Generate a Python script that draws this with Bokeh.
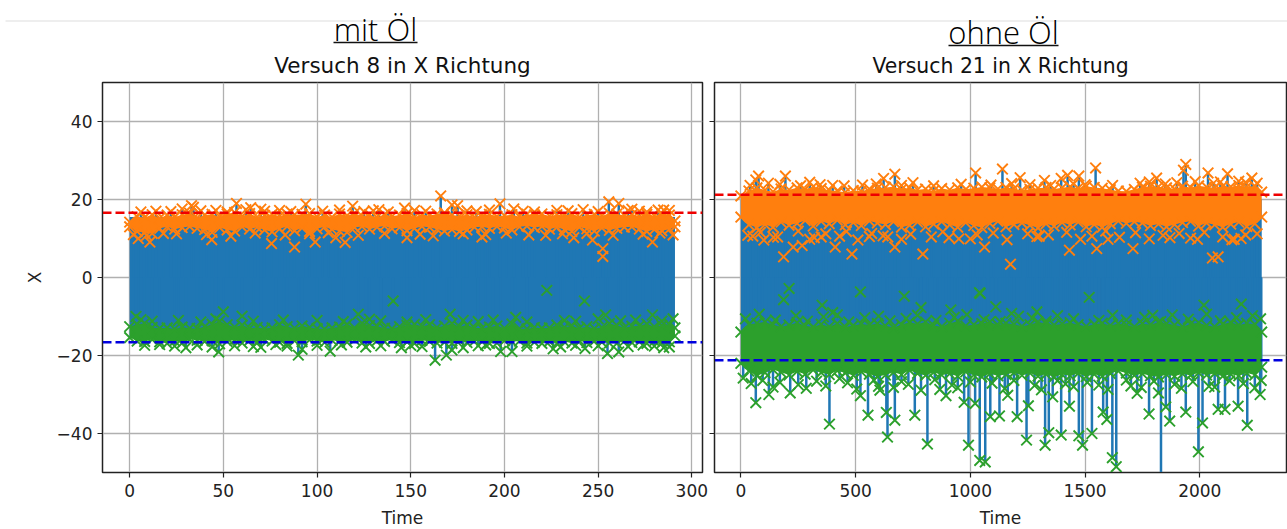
from bokeh.plotting import figure
from bokeh.layouts import column, row
from bokeh.models import Range1d, FixedTicker, Label
from bokeh.embed import file_html
from bokeh.resources import INLINE

BLUE, ORANGE, GREEN = "#1f77b4", "#ff7f0e", "#2ca02c"

# ---------- mit Öl (Versuch 8) ----------
a_title = "Versuch 8 in X Richtung"
a_head = "mit Öl"
a_span = [0, 291]
a_core_hi = [15.5, 15.5]
a_core_lo = [-15.5, -15.5]
a_limit = 16.6
a_t = [0,4,8,12,16,20,24,28,32,36,40,44,48,52,56,60,64,68,72,76,80,84,88,92,96,100,104,108,112,116,120,124,128,132,136,140,144,148,152,156,160,164,168,172,176,180,184,188,192,196,200,204,208,212,216,220,224,228,232,236,240,244,248,252,256,260,264,268,272,276,280,284,288,291]
a_top = [14.2,15.6,15.4,16.1,15.2,16.0,15.5,16.1,16.5,15.3,16.0,16.2,15.6,16.3,16.7,15.7,16.4,15.5,15.9,16.2,15.8,16.3,16.1,16.2,16.4,15.6,16.0,15.5,16.3,15.9,16.5,15.8,16.1,15.4,16.2,15.7,16.0,16.4,15.5,16.1,15.9,16.3,16.6,16.0,15.8,16.1,15.5,16.0,16.2,15.7,15.9,16.1,15.6,16.2,16.0,16.3,15.8,16.1,15.9,16.4,15.5,16.0,16.2,15.8,16.5,16.3,15.9,16.1,15.7,16.2,15.8,16.4,16.0,14.5]
a_low = [13.0,11.8,11.5,11.3,12.6,13.0,12.4,12.8,13.1,12.6,12.3,11.6,12.8,12.2,11.9,13.0,12.4,12.9,12.2,11.7,12.5,13.1,12.0,12.7,11.8,12.5,13.0,12.3,11.9,11.6,12.8,13.1,12.4,12.9,13.2,12.5,12.8,12.0,12.6,13.1,12.9,12.4,11.9,12.3,11.8,12.2,12.9,13.0,12.6,13.1,12.7,12.2,13.0,13.2,12.8,13.1,12.4,12.9,12.3,11.8,12.9,12.5,11.9,12.7,12.1,12.6,12.9,13.0,12.4,11.8,12.3,12.0,12.4,13.0]
a_gtop = [-12.6,-12.0,-11.7,-12.8,-13.0,-12.9,-13.2,-12.7,-13.0,-13.1,-12.6,-12.0,-11.2,-12.1,-12.7,-12.2,-13.0,-12.8,-13.1,-12.9,-12.1,-12.6,-13.0,-12.4,-12.8,-13.1,-13.2,-12.9,-12.7,-12.0,-12.9,-11.7,-12.3,-12.5,-13.0,-13.1,-12.6,-12.3,-12.0,-12.5,-12.1,-12.8,-12.4,-11.8,-12.6,-12.2,-12.9,-13.0,-12.7,-12.4,-13.0,-11.9,-13.1,-13.2,-12.8,-13.0,-12.9,-12.2,-12.8,-12.4,-13.0,-12.6,-13.1,-12.8,-11.8,-12.3,-12.9,-12.5,-12.4,-11.9,-12.6,-12.3,-12.0,-12.9]
a_gbot = [-15.4,-16.3,-16.4,-15.9,-16.5,-16.9,-16.3,-16.8,-15.9,-16.1,-16.4,-16.2,-17.0,-16.4,-16.0,-16.8,-16.1,-16.7,-15.9,-16.3,-16.6,-16.9,-16.2,-16.5,-16.0,-16.3,-16.7,-16.1,-16.4,-16.6,-16.0,-16.8,-16.9,-16.2,-16.4,-16.0,-16.7,-16.5,-16.9,-16.1,-16.4,-16.8,-16.6,-16.9,-16.2,-16.7,-16.3,-16.4,-16.9,-16.8,-16.2,-16.5,-16.3,-16.8,-16.6,-16.9,-16.4,-16.9,-16.5,-16.8,-16.2,-16.7,-16.3,-16.6,-16.8,-16.9,-16.3,-16.7,-16.5,-16.9,-16.3,-16.8,-16.5,-15.0]
a_hi_t = [166,57,33,34,94,197.6,255.7,261,172,175,119,64.6,146.7,88,252.5,252.5,75.7,10.8,43.8,99,279,115,148,237,247,4.6,70,133,205,268,285,110,188,222,28,
          6,14,22,38,46,52,62,72,80,86,103,112,125,130,138,152,158,180,185,192,210,216,228,234,242,250,266,272,276,282,288,
          2,9,18,25,41,54,67,83,96,106,122,136,155,162,178,190,201,213,231,244,258,274,283,290]
a_hi_v = [20.9,19.0,18.4,18.0,18.8,18.9,19.4,19.0,18.6,18.4,18.3,17.9,17.8,7.8,7.4,5.4,8.7,9.1,9.7,9.1,9.1,9.0,10.2,10.2,9.6,10.0,17.5,17.4,17.6,17.5,17.3,10.2,10.4,10.8,17.6,
          16.8,17.0,16.9,17.1,17.2,16.8,17.4,17.0,17.2,16.9,17.0,17.3,16.9,17.1,16.8,17.2,17.0,17.1,16.9,17.3,17.0,16.8,17.2,17.1,17.4,16.9,17.2,17.0,16.8,17.3,17.2,
          11.0,10.8,11.3,11.2,11.0,10.6,11.4,10.9,11.2,11.5,10.8,11.3,11.1,10.7,11.2,11.0,11.4,10.9,11.2,11.3,10.8,11.1,11.4,10.9]
a_lo_t = [90,163,169,47.5,107,255,261,204,198,140.6,242.7,222.6,50,122,254,279,206,171,60,3.4,172,226,30,70,145,285,92,243,
          8,16,24,36,44,56,66,78,84,100,113,126,134,150,156,178,186,190,212,230,238,250,266,274,280,288,
          6,12,26,38,46,66,82,100,114,128,134,148,158,178,186,194,212,232,238,250,262,270,284,290]
a_lo_v = [-19.9,-21.2,-19.9,-19.1,-18.9,-19.5,-19.1,-19.0,-19.0,-6.0,-6.0,-3.3,-8.8,-9.4,-9.6,-9.6,-10.2,-9.4,-9.9,-10.0,-18.6,-18.3,-18.0,-17.9,-18.0,-18.0,-18.4,-18.2,
          -17.4,-17.2,-17.6,-17.3,-17.8,-17.5,-17.7,-17.2,-17.6,-17.4,-17.3,-17.8,-17.5,-17.4,-17.7,-18.0,-17.5,-17.3,-17.6,-17.8,-17.4,-17.5,-17.7,-17.3,-17.6,-17.8,
          -10.8,-11.2,-11.0,-11.4,-10.6,-11.2,-10.9,-11.0,-11.3,-10.7,-11.1,-11.4,-10.8,-11.0,-11.3,-10.9,-11.4,-11.0,-11.2,-10.6,-11.1,-10.9,-11.2,-10.6]

# ---------- ohne Öl (Versuch 21) ----------
b_title = "Versuch 21 in X Richtung"
b_head = "ohne Öl"
b_span = [0, 2270]
b_core_hi = [20, 20]
b_core_lo = [-20, -20]
b_limit = 21.2
b_t = [0,35,70,105,140,175,210,245,280,315,350,385,420,455,490,525,560,595,630,665,700,735,770,805,840,875,910,945,980,1015,1050,1085,1120,1155,1190,1225,1260,1295,1330,1365,1400,1435,1470,1505,1540,1575,1610,1645,1680,1715,1750,1785,1820,1855,1890,1925,1960,1995,2030,2065,2100,2135,2170,2205,2240,2270]
b_top = [20.9,22.2,23.0,22.4,22.0,22.7,22.5,23.0,22.6,23.3,22.8,22.4,22.2,21.8,22.3,22.1,22.7,22.9,23.1,23.3,22.6,23.0,22.5,22.7,22.2,22.8,22.5,23.0,22.6,22.9,23.2,23.0,22.7,23.1,22.8,22.4,22.6,22.9,23.1,22.7,23.0,23.3,22.9,23.4,23.1,22.9,22.5,22.2,22.1,22.6,23.2,23.4,23.3,23.0,22.7,23.4,23.1,23.5,23.2,23.0,23.4,23.3,23.6,23.2,23.4,21.9]
b_low = [15.5,13.5,12.8,13.6,12.9,14.2,13.4,13.9,14.6,13.2,14.4,13.8,14.7,13.5,14.1,13.3,14.5,14.0,13.6,14.3,12.9,13.4,14.2,13.0,13.7,14.3,13.5,12.9,14.1,13.3,12.8,13.9,14.4,13.0,13.6,14.0,13.4,12.7,13.8,13.2,14.1,13.5,14.2,13.0,13.6,12.9,13.8,14.5,13.9,14.3,14.0,13.3,13.7,13.0,13.6,14.1,14.4,13.2,14.0,13.5,12.9,13.7,14.2,13.1,13.8,15.5]
b_gtop = [-14.0,-12.0,-11.7,-11.4,-12.1,-12.6,-12.2,-11.6,-12.4,-12.7,-12.0,-12.6,-11.8,-12.7,-12.3,-11.9,-12.2,-11.8,-12.4,-12.8,-12.1,-11.5,-11.9,-11.4,-12.3,-12.6,-11.7,-11.2,-12.4,-12.1,-11.8,-11.4,-12.2,-11.7,-12.0,-12.5,-12.1,-11.4,-11.8,-12.2,-11.9,-11.6,-12.1,-12.5,-12.0,-11.7,-12.3,-11.8,-12.2,-12.6,-11.8,-12.1,-11.5,-11.8,-12.2,-12.6,-11.9,-11.6,-12.3,-12.6,-12.0,-11.5,-12.2,-11.7,-12.0,-14.0]
b_gbot = [-22.0,-24.0,-25.2,-24.4,-23.6,-24.3,-25.0,-24.1,-24.8,-23.7,-24.4,-24.9,-23.9,-24.5,-25.1,-24.2,-24.8,-25.4,-25.0,-24.3,-24.9,-23.8,-24.6,-25.1,-24.3,-25.0,-24.7,-25.3,-24.2,-25.0,-25.5,-24.7,-25.2,-24.9,-24.4,-25.1,-24.5,-25.3,-24.8,-25.5,-24.9,-25.2,-24.6,-25.4,-24.8,-25.3,-24.6,-24.0,-24.5,-25.1,-24.7,-25.2,-25.5,-24.9,-25.3,-24.7,-25.1,-24.4,-25.0,-24.6,-25.3,-24.8,-25.2,-24.5,-25.0,-23.0]
b_hi_t = [77,65,194,671,622,1023,1140,1217,1323,1396,1424,1473,1546,1939,1929,2036,2121,2227,1812,52,142,186,228,267,411,484,671,793,907,1062,1432,1551,1709,2080,1175,2055,320,1990,640,2180,100,350,560,1000,1300,1600,1870,2150,
          40,120,170,260,300,345,400,450,530,590,700,750,840,960,1090,1180,1260,1350,1450,1500,1620,1740,1780,1850,1900,1980,2060,2090,2170,2200,2250,
          30,85,160,250,300,370,430,460,510,570,620,700,740,830,880,950,1030,1100,1160,1250,1290,1340,1420,1480,1530,1590,1650,1720,1780,1840,1910,1960,2020,2100,2140,2200,2250]
b_hi_v = [26.0,25.0,26.0,26.5,25.4,26.8,27.8,25.6,24.9,25.4,26.2,26.0,28.1,29.0,27.5,26.8,26.6,25.5,25.5,10.6,10.3,5.3,7.8,8.2,7.8,6.0,7.8,6.0,10.2,7.8,7.0,7.4,7.4,5.3,3.4,5.0,10.2,9.8,10.4,10.0,9.6,10.4,10.5,9.9,10.6,9.8,10.2,9.8,
          23.6,24.2,23.9,23.5,24.4,23.8,23.6,23.5,23.7,24.0,23.6,24.3,23.5,23.9,23.7,24.1,23.8,23.6,24.0,23.8,23.6,24.2,24.5,24.0,24.3,24.6,24.2,24.5,24.7,24.4,24.2,
          10.8,11.6,10.4,11.9,9.8,11.2,10.6,11.8,9.6,11.3,10.7,9.8,11.1,10.4,11.7,9.9,10.9,11.4,9.7,11.2,10.5,10.9,11.6,9.8,10.6,11.9,10.3,11.5,9.9,10.8,11.3,10.1,11.6,10.4,9.7,10.9,11.2]
b_lo_t = [65,122,215,386,521,554,634,639,671,758,813,894,973,992,1021,1041,1065,1087,1127,1163,1204,1245,1253,1326,1342,1359,1396,1432,1473,1489,1530,1579,1595,1619,1636,1779,1852,1869,1831,1939,1994,2012,2080,2110,2167,2207,2263,1727,867,606,1820,186,521,712,1043,1518,354,2018,2181,1111,785,915,1290,1795,210,1040,1180,400,
          20,80,150,240,290,360,420,470,540,600,650,720,770,850,930,985,1060,1130,1210,1270,1330,1380,1450,1560,1620,1680,1760,1830,1880,1950,2030,2090,2160,2230,2265,
          10,45,95,140,170,250,285,330,370,430,465,505,580,600,665,700,730,785,845,920,945,1000,1095,1150,1190,1280,1310,1380,1415,1450,1510,1560,1600,1680,1700,1745,1800,1890,1920,1970,2040,2065,2130,2190,2240,2268]
b_lo_v = [-32.1,-30.0,-29.6,-37.6,-30.3,-35.3,-34.6,-40.9,-36.6,-35.3,-42.7,-30.3,-32.0,-43.0,-32.3,-46.9,-47.3,-35.7,-35.5,-30.2,-35.7,-41.7,-32.9,-43.0,-39.8,-30.6,-40.4,-33.0,-40.6,-43.0,-40.0,-34.5,-36.4,-46.2,-48.5,-35.0,-33.2,-36.8,-55.0,-34.5,-44.7,-37.3,-33.8,-33.8,-33.0,-37.9,-30.0,-29.7,-28.7,-28.9,-29.6,-5.7,-3.7,-4.8,-4.1,-5.1,-7.1,-7.1,-6.8,-7.5,-7.7,-8.3,-8.8,-9.7,-2.8,-3.9,-9.2,-9.0,
          -10.6,-9.4,-10.9,-9.8,-11.2,-10.1,-9.6,-11.4,-10.3,-9.9,-11.1,-10.5,-9.7,-11.0,-10.2,-9.5,-10.8,-11.3,-9.9,-10.4,-11.2,-9.8,-10.6,-11.0,-9.7,-10.9,-10.2,-11.3,-9.6,-10.7,-9.4,-11.1,-10.3,-9.8,-10.6,
          -25.8,-27.2,-26.4,-28.1,-26.9,-27.5,-28.4,-26.6,-27.8,-25.9,-27.0,-28.6,-26.3,-27.9,-28.2,-26.7,-27.4,-28.9,-26.2,-27.6,-28.3,-26.8,-27.1,-28.5,-26.4,-27.7,-28.8,-26.5,-27.3,-28.0,-26.9,-27.6,-28.7,-26.3,-27.8,-28.2,-26.6,-27.4,-28.4,-26.7,-27.9,-28.1,-26.5,-27.2,-28.3,-26.4]

y_ticks = [-40, -20, 0, 20, 40]
y_labels = {-40: "\u221240", -20: "\u221220", 0: "0", 20: "20", 40: "40"}
ax_x_ticks = [0, 50, 100, 150, 200, 250, 300]
bx_x_ticks = [0, 500, 1000, 1500, 2000]
MS = 15
MW = 1.9


def panel(title, xr, xticks, span, core_hi, core_lo, limit, t, top, low, gtop, gbot,
          hi_t, hi_v, lo_t, lo_v, width, bl, br, frame_w, show_y, title_px):
    p = figure(width=width, height=484, frame_width=frame_w, frame_height=390,
               x_range=Range1d(*xr), y_range=Range1d(-50, 50),
               output_backend="svg", toolbar_location=None,
               min_border_left=bl, min_border_right=br, min_border_top=37, min_border_bottom=57,
               title=title)
    p.background_fill_color = "white"
    p.border_fill_color = None
    p.title.text_font = "DejaVu Sans"
    p.title.text_font_size = title_px
    p.title.text_font_style = "normal"
    p.title.text_color = "#111111"
    p.title.align = "center"
    p.title.standoff = 9
    p.outline_line_color = "#222222"
    p.outline_line_width = 1.5
    for ax in (p.xaxis[0], p.yaxis[0]):
        ax.axis_line_color = "#222222"
        ax.minor_tick_line_color = None
        ax.major_tick_in = 0
        ax.major_tick_out = 5
        ax.major_tick_line_color = "#222222"
        ax.major_tick_line_width = 1.2
        ax.major_label_text_font = "DejaVu Sans"
        ax.major_label_text_font_size = "17px"
        ax.major_label_text_color = "#222222"
        ax.axis_label_text_font = "DejaVu Sans"
        ax.axis_label_text_font_size = "17px"
        ax.axis_label_text_font_style = "normal"
        ax.axis_label_text_color = "#222222"
    p.xaxis.ticker = FixedTicker(ticks=xticks)
    p.xaxis.axis_label = "Time"
    p.xaxis.major_label_standoff = 6
    p.xaxis.axis_label_standoff = 8
    p.yaxis.ticker = FixedTicker(ticks=y_ticks)
    if show_y:
        p.yaxis.axis_label = "X"
        p.yaxis.major_label_overrides = y_labels
        p.yaxis.major_label_standoff = 5
        p.yaxis.axis_label_standoff = 9
    else:
        p.yaxis.major_label_overrides = {k: "" for k in y_ticks}
        p.yaxis.major_label_standoff = 0
    p.grid.grid_line_color = "#b0b0b0"
    p.grid.grid_line_width = 1.3

    p.varea(x=span, y1=core_lo, y2=core_hi, fill_color=BLUE)
    p.segment(x0=hi_t, y0=[0] * len(hi_t), x1=hi_t, y1=hi_v, line_color=BLUE, line_width=2.5)
    p.segment(x0=lo_t, y0=[0] * len(lo_t), x1=lo_t, y1=lo_v, line_color=BLUE, line_width=2.5)
    p.varea(x=t, y1=low, y2=top, fill_color=ORANGE)
    for vals in (top, low):
        p.scatter(x=t, y=vals, marker="x", size=MS, line_color=ORANGE, line_width=MW)
    p.scatter(x=hi_t, y=hi_v, marker="x", size=MS, line_color=ORANGE, line_width=MW)
    p.varea(x=t, y1=gbot, y2=gtop, fill_color=GREEN)
    for vals in (gtop, gbot):
        p.scatter(x=t, y=vals, marker="x", size=MS, line_color=GREEN, line_width=MW)
    p.scatter(x=lo_t, y=lo_v, marker="x", size=MS, line_color=GREEN, line_width=MW)
    p.line(x=list(xr), y=[limit, limit], line_color="#ee0000", line_width=2.6, line_dash="9 4")
    p.line(x=list(xr), y=[-limit, -limit], line_color="#0000dd", line_width=2.6, line_dash="9 4")
    return p


left = panel(a_title, (-14.5, 305.7), ax_x_ticks, a_span, a_core_hi, a_core_lo, a_limit, a_t, a_top, a_low,
             a_gtop, a_gbot, a_hi_t, a_hi_v, a_lo_t, a_lo_v, 708, 102, 6, 600, True, "21.5px")
right = panel(b_title, (-115, 2378), bx_x_ticks, b_span, b_core_hi, b_core_lo, b_limit, b_t, b_top, b_low,
              b_gtop, b_gbot, b_hi_t, b_hi_v, b_lo_t, b_lo_v, 579, 6, 1, 572, False, "20.4px")

# Header strip: page-pixel coordinate space for the headings (overlapped by the panels' empty top band)
head = figure(width=1287, height=60, x_range=Range1d(0, 1287), y_range=Range1d(60, 0),
              output_backend="svg", toolbar_location=None, min_border=0)
head.axis.visible = False
head.grid.visible = False
head.outline_line_color = None
head.border_fill_color = None
head.background_fill_color = None
head.segment(x0=[5], y0=[20.5], x1=[1287], y1=[20.5], line_color="#dddddd", line_width=1)
for txt, hx, hy in ((a_head, 375, 28), (b_head, 1003, 31)):
    head.add_layout(Label(x=hx, y=hy, text=txt, text_font="Open Sans Light", text_font_size="31px",
                          text_align="center", text_baseline="middle", text_color="#000000"))
head.segment(x0=[333, 948], y0=[42, 45], x1=[417, 1058], y1=[42, 45], line_color="#111111", line_width=1.5)

page = column(head, row(left, right, spacing=0, margin=(-15, 0, 0, 0)), spacing=0)
open("out.html", "w").write(file_html(page, INLINE))
